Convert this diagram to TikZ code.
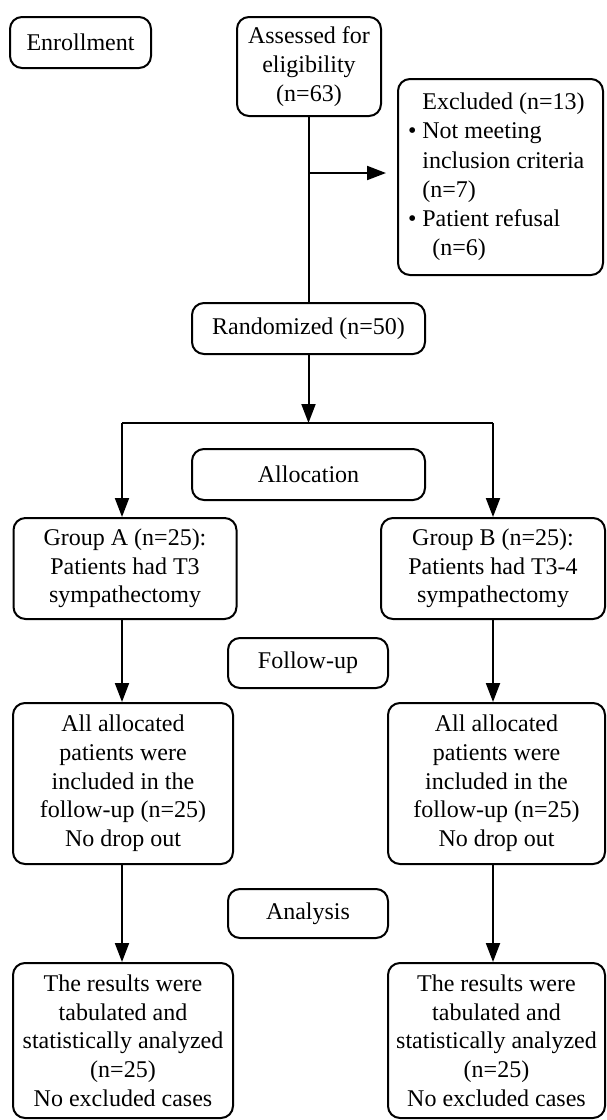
\documentclass[tikz,border=0pt]{standalone}
\usepackage{fontspec}
\setmainfont{Liberation Serif}
\usepackage{tikz}
\usetikzlibrary{arrows.meta, positioning, calc}

\newcommand{\bl}{\phantom{\textbullet\ }}

\begin{document}
\begin{tikzpicture}[x=0.5pt, y=-0.5pt, line width=1pt,
  box/.style={draw, rounded corners=6pt, align=center, inner sep=0pt, font=\fontsize{12}{14.35}\selectfont},
  arr/.style={-{Triangle[length=9.5pt, width=7pt]}}]
  \useasboundingbox (0,0) rectangle (606,1120);

  % Enrollment
  \node[box, minimum width=70.5pt, minimum height=25.5pt] (enroll) at (80.5, 42.5) {Enrollment};
  \node[box, minimum width=72pt, minimum height=49.5pt] (assess) at (309, 66.5) {Assessed for\\eligibility\\(n=63)};
  \node[box, align=flush left, text width=92.5pt, inner xsep=5pt, minimum height=98pt,
        font=\fontsize{12}{14.6}\selectfont] (excl) at (500.5, 177) {
    \bl Excluded (n=13)\\
    \textbullet\ Not meeting\\
    \bl inclusion criteria\\
    \bl (n=7)\\
    \textbullet\ Patient refusal\\
    \bl\hspace*{5pt}(n=6)
  };
  \node[box, minimum width=116.5pt, minimum height=25.5pt] (rand) at (308.5, 328.5) {Randomized (n=50)};

  % Allocation
  \node[box, minimum width=116.5pt, minimum height=25.5pt] (alloc) at (308.5, 474.5) {Allocation};
  \node[box, minimum width=111.5pt, minimum height=50.5pt] (grpA) at (125, 568.5) {Group A (n=25):\\Patients had T3\\sympathectomy};
  \node[box, minimum width=112pt, minimum height=50.5pt] (grpB) at (493, 568.5) {Group B (n=25):\\Patients had T3-4\\sympathectomy};

  % Follow-up
  \node[box, minimum width=80pt, minimum height=25pt] (follow) at (308, 663) {Follow-up};
  \node[box, minimum width=110pt, minimum height=80.5pt] (fuA) at (123, 783.5) {All allocated\\patients were\\included in the\\follow-up (n=25)\\No drop out};
  \node[box, minimum width=108.5pt, minimum height=80.5pt] (fuB) at (496.5, 783.5) {All allocated\\patients were\\included in the\\follow-up (n=25)\\No drop out};

  % Analysis
  \node[box, minimum width=80pt, minimum height=24.5pt] (anal) at (308, 913.5) {Analysis};
  \node[box, minimum width=110pt, minimum height=77.5pt] (resA) at (123, 1040.5) {The results were\\tabulated and\\statistically analyzed\\(n=25)\\No excluded cases};
  \node[box, minimum width=108.5pt, minimum height=77.5pt] (resB) at (496.5, 1040.5) {The results were\\tabulated and\\statistically analyzed\\(n=25)\\No excluded cases};

  % connectors
  \coordinate (branch) at (308.5, 173);
  \coordinate (split) at (308.5, 423);
  \coordinate (splitL) at (122, 423);
  \coordinate (splitR) at (493, 423);
  \draw (assess.south) -- (assess.south |- rand.north);
  \draw[arr, shorten >=5.5pt] (branch) -- (branch -| excl.west);
  \draw[arr] (rand.south) -- (split);
  \draw (splitL) -- (splitR);
  \draw[arr] (splitL) -- (splitL |- grpA.north);
  \draw[arr] (splitR) -- (splitR |- grpB.north);
  \draw[arr] (splitL |- grpA.south) -- (splitL |- fuA.north);
  \draw[arr] (splitR |- grpB.south) -- (splitR |- fuB.north);
  \draw[arr] (splitL |- fuA.south) -- (splitL |- resA.north);
  \draw[arr] (splitR |- fuB.south) -- (splitR |- resB.north);
\end{tikzpicture}
\end{document}
